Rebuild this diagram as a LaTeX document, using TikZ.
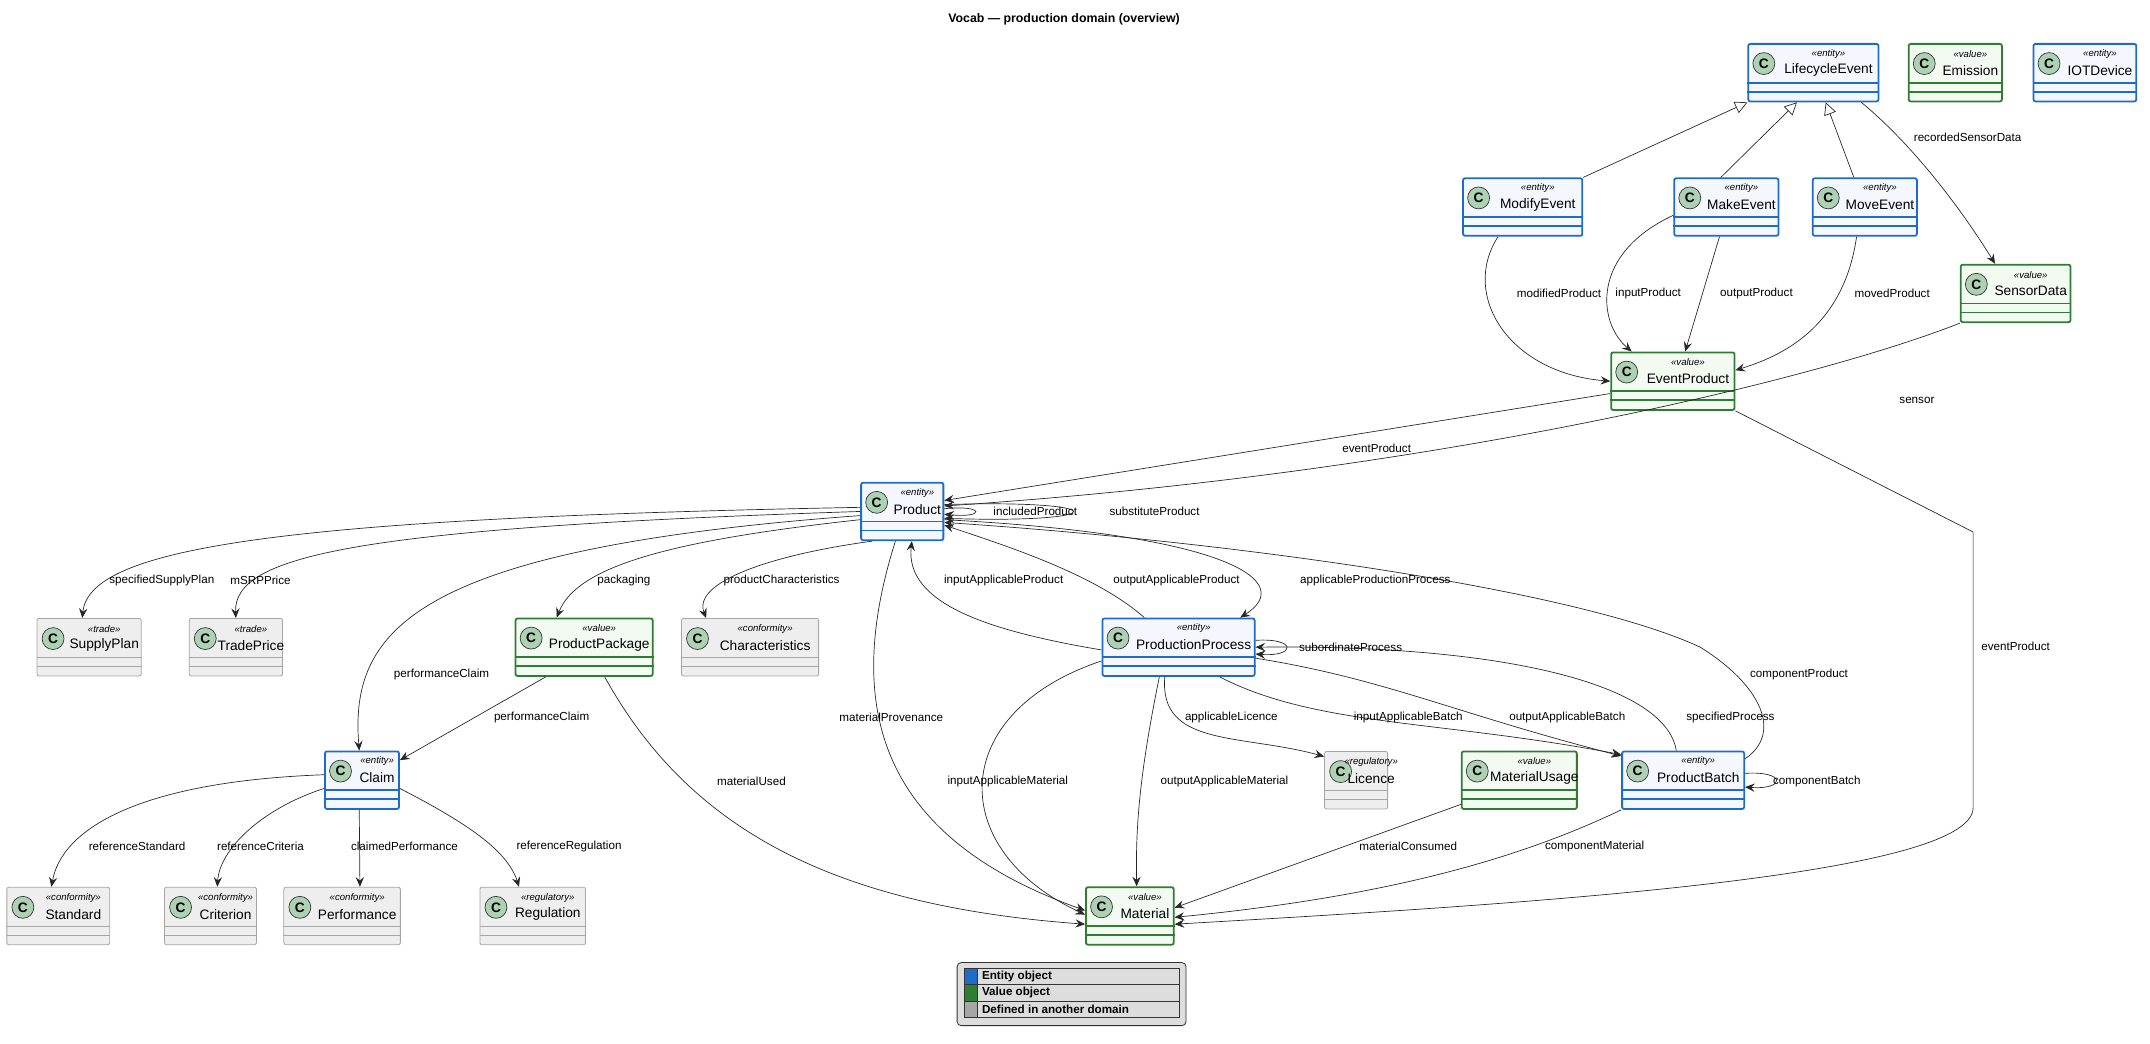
\documentclass[tikz,border=0pt]{standalone}
\usepackage{fontspec}
\setmainfont{Liberation Sans}
\usetikzlibrary{arrows.meta,calc,positioning}
\definecolor{entcol}{HTML}{1E6BC8}
\definecolor{entfill}{HTML}{F4F8FE}
\definecolor{valcol}{HTML}{2E7D32}
\definecolor{valfill}{HTML}{F2FAF2}
\definecolor{othcol}{HTML}{A6A6A6}
\definecolor{othfill}{HTML}{EEEEEE}
\definecolor{circfill}{HTML}{ADD1B2}
\definecolor{legfill}{HTML}{DDDDDD}

\tikzset{
  cls/.style = {draw, rounded corners=1.5pt, minimum height=42pt, inner sep=0pt},
  entity/.style = {cls, draw=entcol, fill=entfill, line width=1.3pt},
  value/.style = {cls, draw=valcol, fill=valfill, line width=1.3pt},
  other/.style = {cls, draw=othcol, fill=othfill, line width=0.6pt},
  entity-line/.style = {draw=entcol, line width=1.3pt},
  value-line/.style = {draw=valcol, line width=1.3pt},
  other-line/.style = {draw=othcol, line width=0.6pt},
  circ/.style = {circle, draw=black!80, fill=circfill, line width=0.5pt, minimum size=16pt, inner sep=0pt, font=\bfseries\fontsize{10}{10}\selectfont},
  stereo/.style = {font=\itshape\fontsize{7}{8}\selectfont, inner sep=0pt},
  cname/.style = {font=\fontsize{10}{12}\selectfont, inner sep=0pt},
  edge/.style = {draw=black!85, line width=0.5pt, -{Stealth[length=7pt, width=6pt, inset=2.5pt]}},
  gen/.style = {draw=black!85, line width=0.5pt, -{Triangle[open, length=9pt, width=9pt, fill=white]}},
  lbl/.style = {font=\fontsize{8.5}{10}\selectfont, inner sep=1pt},
}

% id, kind, stereotype, name, left, right, top
\newcommand{\umlclass}[7]{%
  \node[#2, minimum width={(#6)-(#5)}] (#1) at ({(#5+#6)/2},{#7+21}) {};
  \draw[#2-line] ($(#1.north west)+(0pt,-29pt)$) -- ($(#1.north east)+(0pt,-29pt)$);
  \draw[#2-line] ($(#1.north west)+(0pt,-35.5pt)$) -- ($(#1.north east)+(0pt,-35.5pt)$);
  \node[circ] at ($(#1.north west)+(12pt,-15pt)$) {C};
  \node[stereo] at ($(#1.north)+(11pt,-8pt)$) {«#3»};
  \node[cname] at ($(#1.north)+(11pt,-20pt)$) {#4};
}

\begin{document}
\begin{tikzpicture}[x=1pt, y=-1pt]
\useasboundingbox (0,0) rectangle (1568,761);

\node[font=\bfseries\fontsize{9}{11}\selectfont] (title) at (776,14) {Vocab — production domain (overview)};

% classes
\umlclass{LifecycleEvent}{entity}{entity}{LifecycleEvent}{1275}{1370}{32}
\umlclass{Emission}{value}{value}{Emission}{1392}{1460}{32}
\umlclass{IOTDevice}{entity}{entity}{IOTDevice}{1483}{1558}{32}
\umlclass{ModifyEvent}{entity}{entity}{ModifyEvent}{1067}{1154}{130}
\umlclass{MakeEvent}{entity}{entity}{MakeEvent}{1221}{1297}{130}
\umlclass{MoveEvent}{entity}{entity}{MoveEvent}{1322}{1398}{130}
\umlclass{SensorData}{value}{value}{SensorData}{1430}{1510}{193}
\umlclass{EventProduct}{value}{value}{EventProduct}{1175}{1265}{257}
\umlclass{Product}{entity}{entity}{Product}{628}{688}{352}
\umlclass{SupplyPlan}{other}{trade}{SupplyPlan}{27}{103}{451}
\umlclass{TradePrice}{other}{trade}{TradePrice}{138}{206}{451}
\umlclass{ProductPackage}{value}{value}{ProductPackage}{376}{476}{451}
\umlclass{Characteristics}{other}{conformity}{Characteristics}{497}{597}{451}
\umlclass{ProductionProcess}{entity}{entity}{ProductionProcess}{804}{915}{451}
\umlclass{Claim}{entity}{entity}{Claim}{237}{291}{548}
\umlclass{Licence}{other}{regulatory}{Licence}{966}{1012}{548}
\umlclass{MaterialUsage}{value}{value}{MaterialUsage}{1066}{1150}{548}
\umlclass{ProductBatch}{entity}{entity}{ProductBatch}{1183}{1272}{548}
\umlclass{Standard}{other}{conformity}{Standard}{5}{80}{647}
\umlclass{Criterion}{other}{conformity}{Criterion}{120}{187}{647}
\umlclass{Performance}{other}{conformity}{Performance}{207}{292}{647}
\umlclass{Regulation}{other}{regulatory}{Regulation}{350}{427}{647}
\umlclass{Material}{value}{value}{Material}{792}{856}{647}

% inheritance
\draw[gen] (ModifyEvent.north east) -- (LifecycleEvent.south west);
\draw[gen] ([xshift=-4pt]MakeEvent.north) -- ([xshift=-12pt]LifecycleEvent.south);
\draw[gen] ([xshift=-8pt]MoveEvent.north) -- ([xshift=9pt]LifecycleEvent.south);

% event side
\draw[edge] ([xshift=35pt]LifecycleEvent.south) .. controls (1400,110) and (1435,160) .. ([xshift=-15pt]SensorData.north);
\draw[edge] ([xshift=-18pt]ModifyEvent.south) .. controls (1065,215) and (1100,272) .. (EventProduct.west);
\draw[edge] ([yshift=-6pt]MakeEvent.west) .. controls (1160,185) and (1165,235) .. ([xshift=-30pt]EventProduct.north);
\draw[edge] ([xshift=-5pt]MakeEvent.south) -- ([xshift=9pt]EventProduct.north);
\draw[edge] ([xshift=-6pt]MoveEvent.south) .. controls (1345,235) and (1305,258) .. ([yshift=8pt]EventProduct.east);
\draw[edge] ([yshift=-9pt]EventProduct.west) -- ([yshift=8pt]Product.east);
\draw[edge] (SensorData.south west) .. controls (1330,275) and (1050,345) .. ([yshift=4pt]Product.east);
\draw[edge] (EventProduct.south east) -- (1439,388) -- (1439,589) .. controls (1439,640) and (1100,660) .. ([yshift=-6pt]Material.east);

% product
\draw[edge] ([yshift=2pt]Product.east) .. controls +(30pt,3pt) and +(30pt,-3pt) .. ([yshift=-2pt]Product.east);
\draw[edge] ([yshift=5pt]Product.east) .. controls +(125pt,4pt) and +(125pt,-4pt) .. ([yshift=-5pt]Product.east);
\draw[edge] ([yshift=3pt]Product.west) .. controls (200,378) and (65,400) .. ([xshift=-5pt]SupplyPlan.north);
\draw[edge] ([yshift=0pt]Product.west) .. controls (260,385) and (170,405) .. (TradePrice.north);
\draw[edge] ([yshift=-3pt]Product.west) .. controls (300,400) and (255,460) .. ([xshift=-2pt]Claim.north);
\draw[edge] ([yshift=-6pt]Product.west) .. controls (480,395) and (420,415) .. ([xshift=-20pt]ProductPackage.north);
\draw[edge] ([xshift=-22pt]Product.south) .. controls (560,405) and (505,425) .. ([xshift=-32pt]Characteristics.north);
\draw[edge] ([xshift=-5pt]Product.south) .. controls (615,515) and (640,610) .. ([yshift=4pt]Material.west);
\draw[edge] ([yshift=-2pt]ProductionProcess.west) .. controls (720,460) and (660,440) .. ([xshift=7pt]Product.south);
\draw[edge] ([xshift=-25pt]ProductionProcess.north) .. controls (800,420) and (740,400) .. ([yshift=-10pt]Product.east);
\draw[edge] ([yshift=-6pt]Product.east) .. controls (900,390) and (945,425) .. ([xshift=45pt]ProductionProcess.north);
\draw[edge] ([yshift=-6pt]ProductBatch.north east) .. controls (1300,535) and (1285,500) .. (1240,472) .. controls (1150,430) and (900,395) .. ([yshift=-8pt]Product.east);
\draw[edge] ([xshift=-28pt]ProductPackage.south) -- ([yshift=-7pt]Claim.north east);
\draw[edge] ([xshift=15pt]ProductPackage.south) .. controls (500,600) and (600,660) .. ([yshift=-6pt]Material.west);

% production process
\draw[edge] ([yshift=5pt]ProductionProcess.east) .. controls +(30pt,2pt) and +(30pt,-2pt) .. ([yshift=-5pt]ProductionProcess.east);
\draw[edge] ([xshift=30pt]ProductionProcess.south) .. controls (960,530) and (1050,525) .. ([yshift=-3pt]ProductBatch.north west);
\draw[edge] ([yshift=-8pt]ProductionProcess.east) .. controls (1010,495) and (1060,520) .. ([yshift=-4pt]ProductBatch.north west);
\draw[edge] ([xshift=-5pt]ProductBatch.north) .. controls (1215,500) and (1100,470) .. (ProductionProcess.east);
\draw[edge] ([xshift=-10pt]ProductionProcess.south) .. controls (845,545) and (905,535) .. ([yshift=-4pt]Licence.north west);
\draw[edge] ([yshift=-10pt]ProductionProcess.west) .. controls (690,520) and (690,620) .. ([yshift=1pt]Material.west);
\draw[edge] ([xshift=-14pt]ProductionProcess.south) .. controls (832,560) and (828,600) .. ([xshift=5pt]Material.north);

% material
\draw[edge] ([yshift=4pt]MaterialUsage.south west) -- ([yshift=6pt]Material.east);
\draw[edge] (ProductBatch.south west) .. controls (1100,630) and (1000,655) .. ([yshift=-1pt]Material.east);
\draw[edge] ([yshift=5pt]ProductBatch.east) .. controls +(30pt,2pt) and +(30pt,-2pt) .. ([yshift=-5pt]ProductBatch.east);

% claim
\draw[edge] ([yshift=4pt]Claim.west) .. controls (100,570) and (45,605) .. ([xshift=-5pt]Standard.north);
\draw[edge] ([yshift=-6pt]Claim.west) .. controls (190,590) and (160,620) .. ([xshift=5pt]Criterion.north);
\draw[edge] ([xshift=-2pt]Claim.south) -- ([xshift=13pt]Performance.north);
\draw[edge] ([yshift=-6pt]Claim.east) .. controls (340,600) and (370,620) .. ([xshift=-10pt]Regulation.north);

% labels
\node[lbl] (lRec) at (1435,100) {recordedSensorData};
\node[lbl] (lMod) at (1137,214) {modifiedProduct};
\node[lbl] (lIn) at (1202,214) {inputProduct};
\node[lbl] (lOut) at (1281,214) {outputProduct};
\node[lbl] (lMov) at (1380,214) {movedProduct};
\node[lbl] (lSen) at (1398,292) {sensor};
\node[lbl] (lEvP) at (1004,327) {eventProduct};
\node[lbl] (lEvM) at (1470,471) {eventProduct};
\node[lbl] (lInc) at (755,373) {includedProduct};
\node[lbl] (lSub) at (842,373) {substituteProduct};
\node[lbl] (lSup) at (118,423) {specifiedSupplyPlan};
\node[lbl] (lMsr) at (190,423) {mSRPPrice};
\node[lbl] (lPkg) at (455,423) {packaging};
\node[lbl] (lChr) at (570,423) {productCharacteristics};
\node[lbl] (lIAP) at (732,423) {inputApplicableProduct};
\node[lbl] (lOAP) at (858,423) {outputApplicableProduct};
\node[lbl] (lAPP) at (1003,423) {applicableProductionProcess};
\node[lbl] (lPC1) at (322,492) {performanceClaim};
\node[lbl] (lCmP) at (1312,492) {componentProduct};
\node[lbl] (lSubP) at (985,472) {subordinateProcess};
\node[lbl] (lPC2) at (395,523) {performanceClaim};
\node[lbl] (lMPr) at (650,523) {materialProvenance};
\node[lbl] (lLic) at (898,523) {applicableLicence};
\node[lbl] (lIAB) at (1027,523) {inputApplicableBatch};
\node[lbl] (lOAB) at (1143,523) {outputApplicableBatch};
\node[lbl] (lSpP) at (1262,523) {specifiedProcess};
\node[lbl] (lMU) at (548,570) {materialUsed};
\node[lbl] (lIAM) at (735,570) {inputApplicableMaterial};
\node[lbl] (lOAM) at (893,570) {outputApplicableMaterial};
\node[lbl] (lCmB) at (1325,570) {componentBatch};
\node[lbl] (lMC) at (1027,617) {materialConsumed};
\node[lbl] (lCmM) at (1163,617) {componentMaterial};
\node[lbl] (lRS) at (100,617) {referenceStandard};
\node[lbl] (lRC) at (190,617) {referenceCriteria};
\node[lbl] (lCP) at (295,617) {claimedPerformance};
\node[lbl] (lRR) at (415,617) {referenceRegulation};

% legend
\draw[fill=legfill, draw=black!80, line width=0.6pt, rounded corners=3pt] (698,702) rectangle (865,748);
\foreach \row/\col/\txt [count=\i] in {0/entcol/Entity object, 1/valcol/Value object, 2/othcol/Defined in another domain} {
  \draw[draw=black!80, line width=0.5pt] (703,{706+12*\row}) rectangle (860,{718+12*\row});
  \draw[draw=black!80, line width=0.5pt, fill=\col] (703,{706+12*\row}) rectangle (713,{718+12*\row});
  \node[anchor=west, inner sep=0pt, font=\bfseries\fontsize{8.5}{10}\selectfont] (leg\i) at (716,{712+12*\row}) {\txt};
}
\end{tikzpicture}
\end{document}
